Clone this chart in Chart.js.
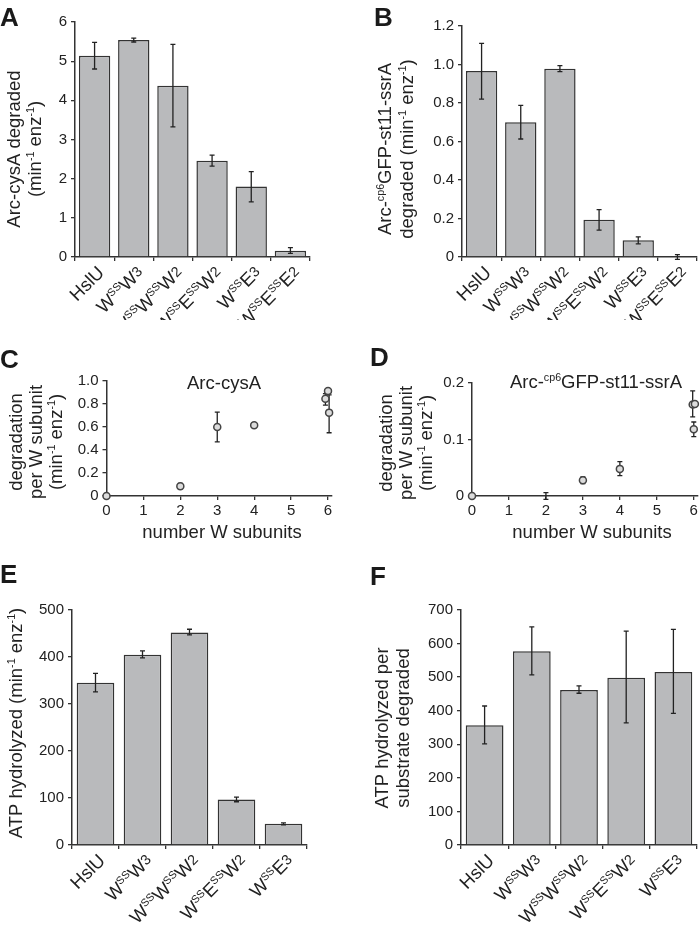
<!DOCTYPE html>
<html lang="en">
<head>
<meta charset="UTF-8">
<title>HslU variants</title>
<script src="https://cdn.jsdelivr.net/npm/chart.js"></script>
<style>
  body { margin: 0; background: #fff; width: 700px; height: 927px; position: relative; overflow: hidden; }
  canvas { position: absolute; }
  .letra { position: absolute; font: bold 26px 'Liberation Sans', Arial, sans-serif; line-height: 26px; color: #1a1a1a; }
</style>
</head>
<body>

<canvas id="chartA" width="350" height="320" style="left:0;top:0"></canvas>
<canvas id="chartB" width="350" height="320" style="left:350px;top:0"></canvas>
<canvas id="chartC" width="350" height="220" style="left:0;top:330px"></canvas>
<canvas id="chartD" width="350" height="220" style="left:350px;top:330px"></canvas>
<canvas id="chartE" width="350" height="347" style="left:0;top:580px"></canvas>
<canvas id="chartF" width="350" height="347" style="left:350px;top:580px"></canvas>

<div class="letra" style="left:0;top:4px">A</div>
<div class="letra" style="left:374px;top:4px">B</div>
<div class="letra" style="left:0;top:346px">C</div>
<div class="letra" style="left:370px;top:344px">D</div>
<div class="letra" style="left:0;top:561px">E</div>
<div class="letra" style="left:370px;top:563px">F</div>

<script>
// categorias (tags: <sup> = sobrescrito pequeno, <sm> = digito menor)
const variantes6 = ['HslU', 'W<sup>SS</sup>W<sm>3</sm>', 'W<sup>SS</sup>W<sup>SS</sup>W<sm>2</sm>',
  'W<sup>SS</sup>E<sup>SS</sup>W<sm>2</sm>', 'W<sup>SS</sup>E<sm>3</sm>', 'W<sup>SS</sup>E<sup>SS</sup>E<sm>2</sm>'];
const variantes5 = variantes6.slice(0, 5);
const ticksW = [0, 1, 2, 3, 4, 5, 6];

// A - Arc-cysA degradado
const cysA = [5.14, 5.54, 4.37, 2.46, 1.80, 0.16];
const cysAMin = [4.80, 5.49, 3.32, 2.32, 1.41, 0.095];
const cysAMax = [5.48, 5.59, 5.43, 2.60, 2.18, 0.24];

// B - Arc-cp6GFP-st11-ssrA degradado
const ssrA = [0.966, 0.70, 0.978, 0.194, 0.087, 0.0];
const ssrAMin = [0.82, 0.613, 0.963, 0.14, 0.068, -0.012];
const ssrAMax = [1.11, 0.788, 0.994, 0.246, 0.105, 0.012];

// C - por subunidade W (Arc-cysA)
const nW_C = [0, 2, 3, 4, 5.93, 6.0, 6.03];
const porW_C = [0, 0.085, 0.60, 0.615, 0.845, 0.912, 0.725];
const porW_CMin = [0, 0.06, 0.47, 0.595, 0.79, 0.912, 0.55];
const porW_CMax = [0, 0.11, 0.73, 0.635, 0.89, 0.912, 0.88];

// D - por subunidade W (ssrA)
const nW_D = [0, 2, 3, 4, 5.97, 6.03, 6.0];
const porW_D = [0, -0.006, 0.028, 0.048, 0.162, 0.163, 0.118];
const porW_DMin = [0, -0.006, 0.022, 0.036, 0.14, 0.163, 0.105];
const porW_DMax = [0, 0.006, 0.034, 0.061, 0.186, 0.163, 0.131];

// E - ATP hidrolisado
const atp = [345, 405, 452, 97, 45];
const atpMin = [326, 398, 447, 92, 43];
const atpMax = [365, 413, 459, 102, 47];

// F - ATP por substrato degradado
const atpPorSub = [357, 577, 462, 498, 515];
const atpPorSubMin = [301, 507, 452, 364, 392];
const atpPorSubMax = [414, 650, 474, 637, 642];

const FONTE = "'Liberation Sans', Arial, sans-serif";
const TINTA = '#222';
Chart.defaults.font.family = FONTE;
Chart.defaults.color = TINTA;

// titulos dos eixos, posicoes em px do canvas
const deco = {
  chartA: { low: cysAMin, high: cysAMax, rich: true, titulo: ['Arc-cysA degraded', '(min<sup>-1</sup> enz<sup>-1</sup>)'], tx: [13, 34], ty: 149 },
  chartB: { low: ssrAMin, high: ssrAMax, rich: true, titulo: ['Arc-<sup>cp6</sup>GFP-st11-ssrA', 'degraded (min<sup>-1</sup> enz<sup>-1</sup>)'], tx: [34, 56], ty: 149 },
  chartC: { low: porW_CMin, high: porW_CMax, atras: true, titulo: ['degradation', 'per W subunit', '(min<sup>-1</sup> enz<sup>-1</sup>)'], tx: [15, 35, 55], ty: 112,
            topo: 'Arc-cysA', topoX: 224, topoY: 52, eixoX: 'number W subunits', eixoXX: 222, eixoXY: 201 },
  chartD: { low: porW_DMin, high: porW_DMax, atras: true, titulo: ['degradation', 'per W subunit', '(min<sup>-1</sup> enz<sup>-1</sup>)'], tx: [35, 55, 75], ty: 113,
            topo: 'Arc-<sup>cp6</sup>GFP-st11-ssrA', topoX: 246, topoY: 51, eixoX: 'number W subunits', eixoXX: 242, eixoXY: 201 },
  chartE: { low: atpMin, high: atpMax, rich: true, titulo: ['ATP hydrolyzed (min<sup>-1</sup> enz<sup>-1</sup>)'], tx: [15], ty: 143 },
  chartF: { low: atpPorSubMin, high: atpPorSubMax, rich: true, titulo: ['ATP hydrolyzed per', 'substrate degraded'], tx: [31, 52], ty: 148 }
};

function partes(str) {
  const segs = [];
  const re = /<(sup|sm)>(.*?)<\/\1>|([^<]+)/g;
  let m;
  while ((m = re.exec(str))) {
    if (m[3]) segs.push({ t: m[3], k: 'n' });
    else segs.push({ t: m[2], k: m[1] });
  }
  return segs;
}

function textoRico(ctx, str, x, y, size, align) {
  const segs = partes(str);
  let total = 0;
  segs.forEach(s => {
    s.sz = s.k === 'sup' ? size * 0.58 : s.k === 'sm' ? size * 0.78 : size;
    s.dy = s.k === 'sup' ? -size * 0.36 : s.k === 'sm' ? -size * 0.1 : 0;
    ctx.font = s.sz + 'px ' + FONTE;
    s.w = ctx.measureText(s.t).width;
    total += s.w;
  });
  let cx = align === 'right' ? x - total : align === 'center' ? x - total / 2 : x;
  ctx.textAlign = 'left';
  ctx.textBaseline = 'alphabetic';
  ctx.fillStyle = TINTA;
  segs.forEach(s => {
    ctx.font = s.sz + 'px ' + FONTE;
    ctx.fillText(s.t, cx, y + s.dy);
    cx += s.w;
  });
}

function barrasErro(chart, d) {
  const ctx = chart.ctx;
  const ys = chart.scales.y;
  const meta = chart.getDatasetMeta(0);
  ctx.save();
  ctx.strokeStyle = TINTA;
  ctx.lineWidth = 1.3;
  meta.data.forEach((el, i) => {
    const y1 = ys.getPixelForValue(d.low[i]);
    const y2 = ys.getPixelForValue(d.high[i]);
    if (Math.abs(y1 - y2) < 0.5) return;
    ctx.beginPath();
    ctx.moveTo(el.x, y1); ctx.lineTo(el.x, y2);
    ctx.moveTo(el.x - 2.5, y1); ctx.lineTo(el.x + 2.5, y1);
    ctx.moveTo(el.x - 2.5, y2); ctx.lineTo(el.x + 2.5, y2);
    ctx.stroke();
  });
  ctx.restore();
}

const enfeite = {
  id: 'enfeite',
  beforeDatasetsDraw(chart) {
    const d = deco[chart.canvas.id];
    if (d.atras) barrasErro(chart, d);
  },
  afterDatasetsDraw(chart) {
    const d = deco[chart.canvas.id];
    if (!d.atras) barrasErro(chart, d);
  },
  afterDraw(chart) {
    const d = deco[chart.canvas.id];
    const ctx = chart.ctx;
    const sz = 18.5;
    ctx.save();
    // rotulos inclinados
    if (d.rich) {
      const xs = chart.scales.x;
      chart.data.labels.forEach((lab, i) => {
        ctx.save();
        ctx.translate(xs.getPixelForTick(i) + 6, xs.top + 12);
        ctx.rotate(-Math.PI / 4);
        textoRico(ctx, lab, 0, sz * 0.36, sz, 'right');
        ctx.restore();
      });
    }
    // titulo do eixo y
    d.titulo.forEach((linha, i) => {
      ctx.save();
      ctx.translate(d.tx[i], d.ty);
      ctx.rotate(-Math.PI / 2);
      textoRico(ctx, linha, 0, sz * 0.36, sz, 'center');
      ctx.restore();
    });
    if (d.topo) textoRico(ctx, d.topo, d.topoX, d.topoY + sz * 0.36, sz, 'center');
    if (d.eixoX) textoRico(ctx, d.eixoX, d.eixoXX, d.eixoXY + sz * 0.36, sz, 'center');
    ctx.restore();
  }
};

function fmt(v) { return v === 0 ? '0' : v.toFixed(1); }

const LARG_Y = 45;   // largura reservada aos rotulos do eixo y
const ALT_X = 30;    // altura reservada aos rotulos do eixo x (C, D)

function eixoY(min, max, passo, decimal) {
  return {
    min: min, max: max,
    afterFit: s => { s.width = LARG_Y; },
    ticks: { stepSize: passo, padding: 4, font: { size: 15 }, color: TINTA,
             callback: decimal ? (v => fmt(v)) : (v => v) },
    grid: { drawOnChartArea: false, drawTicks: true, tickLength: 4, color: '#333', lineWidth: 1.3 },
    border: { display: true, color: '#333', width: 1.5 }
  };
}

function barras(id, labels, valores, ymax, passo, decimal, pad) {
  pad.left -= LARG_Y;
  return new Chart(document.getElementById(id), {
    type: 'bar',
    data: {
      labels: labels,
      datasets: [{
        data: valores,
        backgroundColor: '#b9babc',
        borderColor: '#333',
        borderWidth: 1.5,
        categoryPercentage: 1.0,
        barPercentage: 0.8
      }]
    },
    options: {
      responsive: false,
      animation: false,
      layout: { padding: pad, autoPadding: false },
      plugins: { legend: { display: false }, tooltip: { enabled: false } },
      scales: {
        x: {
          z: 1,
          afterFit: s => { s.height = 0; },
          ticks: { display: false },
          grid: { drawOnChartArea: false, drawTicks: true, tickLength: 4, color: '#333', lineWidth: 1.3 },
          border: { display: true, color: '#333', width: 1.5 }
        },
        y: eixoY(0, ymax, passo, decimal)
      }
    },
    plugins: [enfeite]
  });
}

function pontos(id, xs, ys, ymax, passo, pad) {
  pad.left -= LARG_Y;
  pad.bottom -= ALT_X;
  return new Chart(document.getElementById(id), {
    type: 'scatter',
    data: {
      datasets: [{
        data: xs.map((x, i) => ({ x: x, y: ys[i] })),
        pointRadius: ctx => (ys[ctx.dataIndex] < 0 ? 0 : 3.5),
        pointBorderWidth: 1.5,
        pointBorderColor: '#444',
        pointBackgroundColor: '#dcdcdc',
        clip: false
      }]
    },
    options: {
      responsive: false,
      animation: false,
      layout: { padding: pad, autoPadding: false },
      plugins: { legend: { display: false }, tooltip: { enabled: false } },
      scales: {
        x: {
          type: 'linear', min: 0, max: 6.1,
          afterFit: s => { s.height = ALT_X; },
          afterBuildTicks: s => { s.ticks = ticksW.map(v => ({ value: v })); },
          ticks: { padding: 2, font: { size: 15 }, color: TINTA, autoSkip: false },
          grid: { drawOnChartArea: false, drawTicks: true, tickLength: 4, color: '#333', lineWidth: 1.3 },
          border: { display: true, color: '#333', width: 1.5 }
        },
        y: eixoY(0, ymax, passo, true)
      }
    },
    plugins: [enfeite]
  });
}

barras('chartA', variantes6, cysA, 6, 1, false, { left: 75, top: 22, right: 40, bottom: 63 });
barras('chartB', variantes6, ssrA, 1.2, 0.2, true, { left: 112, top: 26, right: 3, bottom: 63 });
pontos('chartC', nW_C, porW_C, 1.0, 0.2, { left: 106.5, top: 51, right: 18.3, bottom: 54 });
pontos('chartD', nW_D, porW_D, 0.2, 0.1, { left: 122, top: 53, right: 2.3, bottom: 54 });
barras('chartE', variantes5, atp, 500, 100, false, { left: 72, top: 30, right: 43, bottom: 82 });
barras('chartF', variantes5, atpPorSub, 700, 100, false, { left: 111, top: 30, right: 3, bottom: 82 });
</script>
</body>
</html>
